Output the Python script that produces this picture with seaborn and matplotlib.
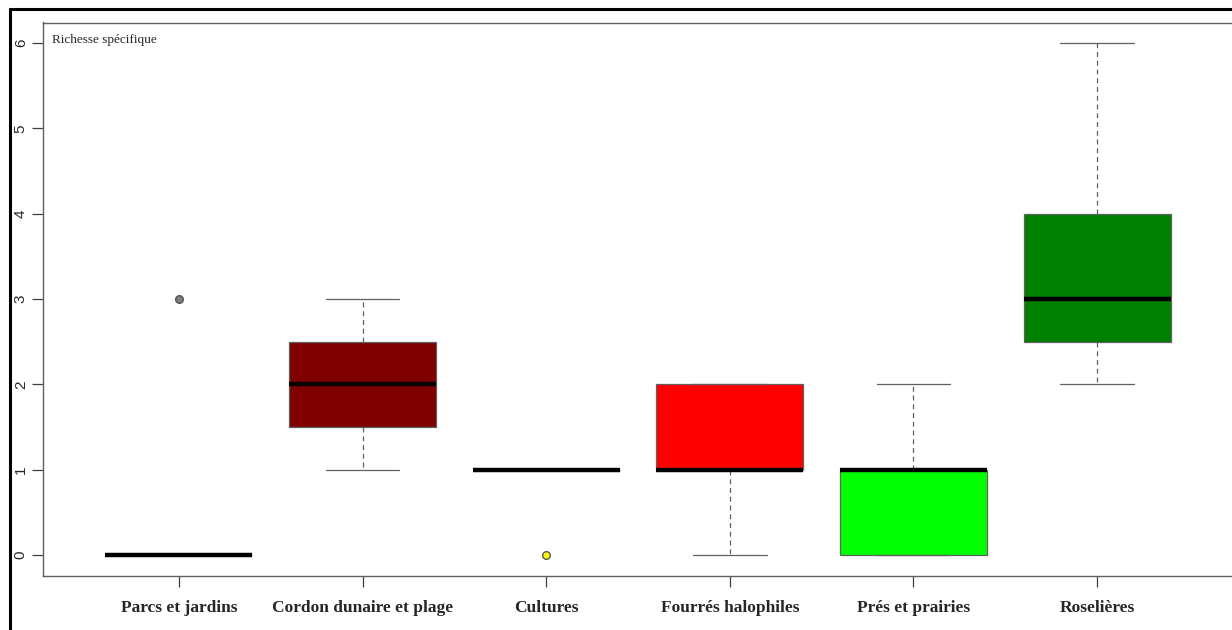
import matplotlib
matplotlib.use("Agg")
import matplotlib.pyplot as plt
import seaborn as sns
import pandas as pd
from matplotlib.lines import Line2D

# habitats and raw species-richness counts per site
habitats = ["Parcs et jardins", "Cordon dunaire et plage", "Cultures",
            "Fourrés halophiles", "Prés et prairies", "Roselières"]
parcs = [0, 0, 0, 0, 0, 0, 0, 3]
cordon = [1, 2, 3]
cultures = [0, 1, 1, 1, 1]
fourres = [0, 1, 1, 1, 2, 2, 2]
pres = [0, 0, 1, 1, 2]
roselieres = [2, 2, 3, 3, 4, 4, 6]
box_colors = ["#808080", "#800000", "#ffff00", "#ff0000", "#00ff00", "#008000"]

values = [parcs, cordon, cultures, fourres, pres, roselieres]
df = pd.DataFrame({
    "habitat": [h for h, v in zip(habitats, values) for _ in v],
    "richesse": [x for v in values for x in v],
})

sns.set_style("white")
fig = plt.figure(figsize=(12.32, 6.3), dpi=100)
ax = fig.add_axes([43 / 1232, 1 - 575.5 / 630, 1190 / 1232, 553 / 630])

sns.boxplot(data=df, x="habitat", y="richesse", hue="habitat", order=habitats,
            hue_order=habitats, palette=box_colors, legend=False, width=0.8,
            linewidth=0.9, linecolor="#606060", saturation=1,
            whiskerprops=dict(linestyle=(0, (4, 3))),
            medianprops=dict(color="black", linewidth=3.2, zorder=5),
            flierprops=dict(marker="o", markersize=5.5, markeredgecolor="#555555"),
            ax=ax)

# colour outliers like their box
for ln in ax.lines:
    if ln.get_marker() == "o" and len(ln.get_xdata()):
        idx = int(round(float(ln.get_xdata()[0])))
        ln.set_markerfacecolor(box_colors[idx])

ax.set_xlim(-0.74, 5.74)
ax.set_ylim(-0.24, 6.24)
ax.set_yticks(range(7))
ax.set_xlabel("")
ax.set_ylabel("")
ax.tick_params(axis="x", bottom=True, length=8, width=0.9, color="#404040", pad=10)
ax.tick_params(axis="y", left=True, length=8, width=0.9, color="#404040", pad=8)
ax.set_xticks(range(len(habitats)))
ax.set_xticklabels(habitats, family="Liberation Serif", fontweight="bold", fontsize=12.5)
for lab in ax.get_yticklabels():
    lab.set_rotation(90)
    lab.set_va("center")
    lab.set_ha("center")
    lab.set_family("Liberation Sans")
    lab.set_fontsize(11)
for s in ax.spines.values():
    s.set_color("#606060")
    s.set_linewidth(1)

ax.text(52 / 1232, 1 - 40 / 630, "Richesse spécifique", transform=fig.transFigure,
        family="Liberation Serif", fontsize=9.5, va="center", ha="left")

# outer frame of the original window (left and top edges)
fig.add_artist(Line2D([9.5 / 1232, 9.5 / 1232], [0, 1 - 9 / 630], color="black", lw=2.2))
fig.add_artist(Line2D([9.5 / 1232, 1], [1 - 9 / 630, 1 - 9 / 630], color="black", lw=2.2))

fig.savefig("out.png", dpi=100)
